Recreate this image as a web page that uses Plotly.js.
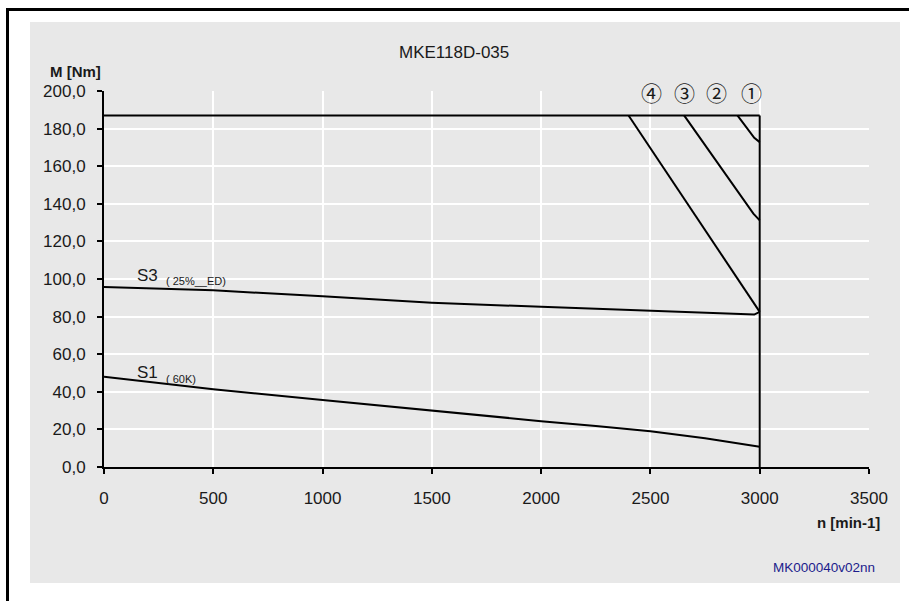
<!DOCTYPE html>
<html>
<head>
<meta charset="utf-8">
<script src="https://cdn.plot.ly/plotly-3.0.1.min.js"></script>
<style>
  html, body { margin: 0; padding: 0; background: #ffffff; width: 909px; height: 601px; overflow: hidden; }
  #frame { position: absolute; left: 6px; top: 8px; width: 960px; height: 700px;
           border-left: 3px solid #000; border-top: 3px solid #000; box-sizing: border-box; }
  #chart { position: absolute; left: 30px; top: 22px; width: 870px; height: 561px; }
</style>
</head>
<body>
<div id="frame"></div>
<div id="chart"></div>
<script>
// ---- data ----
const maxN = [0, 3000];
const maxM = [187, 187];

const curve1N = [3000, 3000];
const curve1M = [187, 0];

const curve2N = [2898, 2975, 3000];
const curve2M = [187, 175.1, 172.8];

const curve3N = [2654, 2971, 3000];
const curve3M = [187, 134.8, 131.2];

const curve4N = [2400, 2967, 3000];
const curve4M = [187, 87.8, 82.5];

const s3N = [0, 500, 1000, 1500, 2000, 2500, 2975, 3000];
const s3M = [95.8, 94.0, 90.8, 87.4, 85.2, 83.0, 81.1, 82.5];

const s1N = [0, 500, 1000, 1500, 2000, 2250, 2500, 2750, 3000];
const s1M = [48.0, 41.3, 35.6, 29.9, 24.4, 21.8, 19.0, 15.3, 10.8];

const xTickVals = [0, 500, 1000, 1500, 2000, 2500, 3000, 3500];
const xTickText = ['0', '500', '1000', '1500', '2000', '2500', '3000', '3500'];
const yTickVals = [0, 20, 40, 60, 80, 100, 120, 140, 160, 180, 200];
const yTickText = ['0,0', '20,0', '40,0', '60,0', '80,0', '100,0', '120,0', '140,0', '160,0', '180,0', '200,0'];

const circleLabels = ['\u2463', '\u2462', '\u2461', '\u2460'];
const circleN = [2503, 2658, 2803, 2963];

// ---- chart ----
const FONT = 'Liberation Sans, Arial, sans-serif';
const lineStyle = { color: '#000000', width: 2 };
function tr(x, y) {
  return { x: x, y: y, type: 'scatter', mode: 'lines', line: lineStyle, hoverinfo: 'skip', showlegend: false };
}
const traces = [
  tr(maxN, maxM), tr(curve1N, curve1M), tr(curve2N, curve2M), tr(curve3N, curve3M),
  tr(curve4N, curve4M), tr(s3N, s3M), tr(s1N, s1M)
];

function pAnn(text, x, y, size, color, xanchor) {
  return { text: text, xref: 'paper', yref: 'paper', x: x, y: y, xanchor: xanchor || 'center', yanchor: 'middle',
    showarrow: false, font: { family: FONT, size: size, color: color || '#1a1a1a' } };
}
function dAnn(text, x, y, size) {
  return { text: text, x: x, y: y, xanchor: 'center', yanchor: 'middle', showarrow: false,
    font: { family: FONT, size: size, color: '#1a1a1a' } };
}

const annotations = [
  pAnn('MKE118D-035', 0.4575, 1.103, 17),
  pAnn('<b>M [Nm]</b>', -0.0379, 1.0518, 15),
  pAnn('<b>n [min-1]</b>', 1.017, -0.1487, 15, '#1a1a1a', 'right'),
  pAnn('MK000040v02nn', 1.0105, -0.268, 13.5, '#1c1c8c', 'right'),
  dAnn('S3', 197, 102, 17),
  dAnn('( 25%__ED)', 423, 99.1, 11),
  dAnn('S1', 200, 50.2, 17),
  dAnn('( 60K)', 351, 47.0, 11)
];
for (let i = 0; i < circleLabels.length; i++) {
  annotations.push({ text: circleLabels[i], x: circleN[i], y: 199.4, xanchor: 'center', yanchor: 'middle',
    showarrow: false, font: { family: 'Noto Sans CJK JP, DejaVu Sans, sans-serif', size: 21, color: '#1a1a1a' } });
}

const layout = {
  width: 870, height: 561,
  margin: { l: 74, r: 31, t: 68.5, b: 116, pad: 0 },
  paper_bgcolor: '#e8e8e8',
  plot_bgcolor: '#e8e8e8',
  showlegend: false,
  font: { family: FONT, size: 17, color: '#1a1a1a' },
  xaxis: {
    range: [0, 3500], tickvals: xTickVals, ticktext: xTickText,
    showgrid: true, gridcolor: '#ffffff', gridwidth: 2,
    zeroline: false, showline: true, linecolor: '#000000', linewidth: 2,
    ticks: 'outside', ticklen: 5, tickwidth: 2, tickcolor: '#000000',
    ticklabelstandoff: 10,
    tickfont: { family: FONT, size: 17, color: '#1a1a1a' }, fixedrange: true
  },
  yaxis: {
    range: [0, 200], tickvals: yTickVals, ticktext: yTickText,
    showgrid: true, gridcolor: '#ffffff', gridwidth: 2,
    zeroline: false, showline: true, linecolor: '#000000', linewidth: 2,
    ticks: 'outside', ticklen: 5, tickwidth: 2, tickcolor: '#000000',
    ticklabelstandoff: 8,
    tickfont: { family: FONT, size: 17, color: '#1a1a1a' }, fixedrange: true
  },
  annotations: annotations
};

Plotly.newPlot('chart', traces, layout, { displayModeBar: false, staticPlot: true });
</script>
</body>
</html>
